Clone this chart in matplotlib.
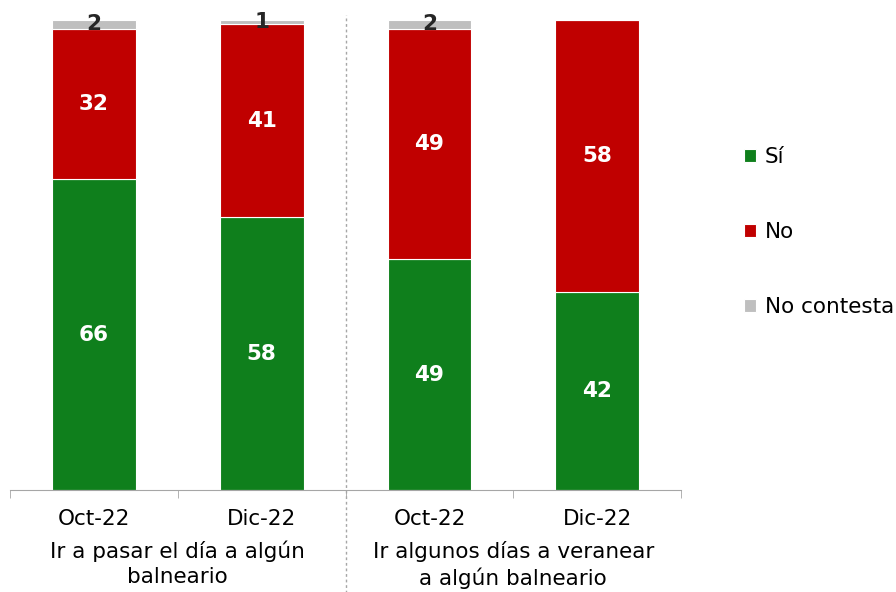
import matplotlib
matplotlib.use('Agg')
from matplotlib import pyplot as plt
from matplotlib.ticker import FixedLocator
import numpy as np

periods = ['Oct-22', 'Dic-22', 'Oct-22', 'Dic-22']
groups = ['Ir a pasar el día a algún\nbalneario', 'Ir algunos días a veranear\na algún balneario']
si = [66, 58, 49, 42]
no = [32, 41, 49, 58]
no_contesta = [2, 1, 2, 0]

GREEN = '#0f7f1c'
RED = '#c00000'
GREY = '#bfbfbf'

fig = plt.figure(figsize=(8.96, 5.92), dpi=100)
ax = fig.add_axes([0.0112, 0.1723, 0.749, 0.7947])

x = np.arange(len(periods))
w = 0.5
si_a = np.array(si)
no_a = np.array(no)
nc_a = np.array(no_contesta)

ax.bar(x, si_a, w, color=GREEN, edgecolor='white', linewidth=0.8, label='Sí')
ax.bar(x, no_a, w, bottom=si_a, color=RED, edgecolor='white', linewidth=0.8, label='No')
ax.bar(x, nc_a, w, bottom=si_a + no_a, color=GREY, edgecolor='white', linewidth=0.8, label='No contesta')

for i in range(len(x)):
    ax.text(x[i], si_a[i] / 2, f'{si_a[i]}', ha='center', va='center',
            color='white', fontsize=15.5, fontweight='bold')
    ax.text(x[i], si_a[i] + no_a[i] / 2, f'{no_a[i]}', ha='center', va='center',
            color='white', fontsize=15.5, fontweight='bold')
    if nc_a[i] > 0:
        ax.text(x[i], si_a[i] + no_a[i] + nc_a[i] / 2, f'{nc_a[i]}', ha='center', va='center',
                color='#262626', fontsize=15.5, fontweight='bold')

ax.set_xlim(-0.5, 3.5)
ax.set_ylim(0, 100)

for s in ['top', 'right', 'left']:
    ax.spines[s].set_visible(False)
ax.spines['bottom'].set_color('#a6a6a6')
ax.set_yticks([])

ax.set_xticks(x)
ax.set_xticklabels(periods, fontsize=15.5)
ax.tick_params(axis='x', which='major', length=0, pad=14)
ax.xaxis.set_minor_locator(FixedLocator([-0.5, 0.5, 1.5, 2.5, 3.5]))
ax.tick_params(axis='x', which='minor', length=6, color='#a6a6a6')

# group labels under the periods
for gx, g in zip([0.5, 2.5], groups):
    ax.text(gx, -10.8, g, ha='center', va='top', fontsize=15.5, linespacing=1.3)

# dotted separator between the two groups
ax.axvline(1.5, ymin=-0.22, ymax=1.01, clip_on=False, color='#a6a6a6',
           linestyle=(0, (2, 2)), linewidth=1)

leg = ax.legend(loc='upper left', bbox_to_anchor=(1.065, 0.77), frameon=False,
                fontsize=15.5, handlelength=0.55, handleheight=0.55, handletextpad=0.4,
                labelspacing=2.55)

fig.savefig('out.png', dpi=100)
